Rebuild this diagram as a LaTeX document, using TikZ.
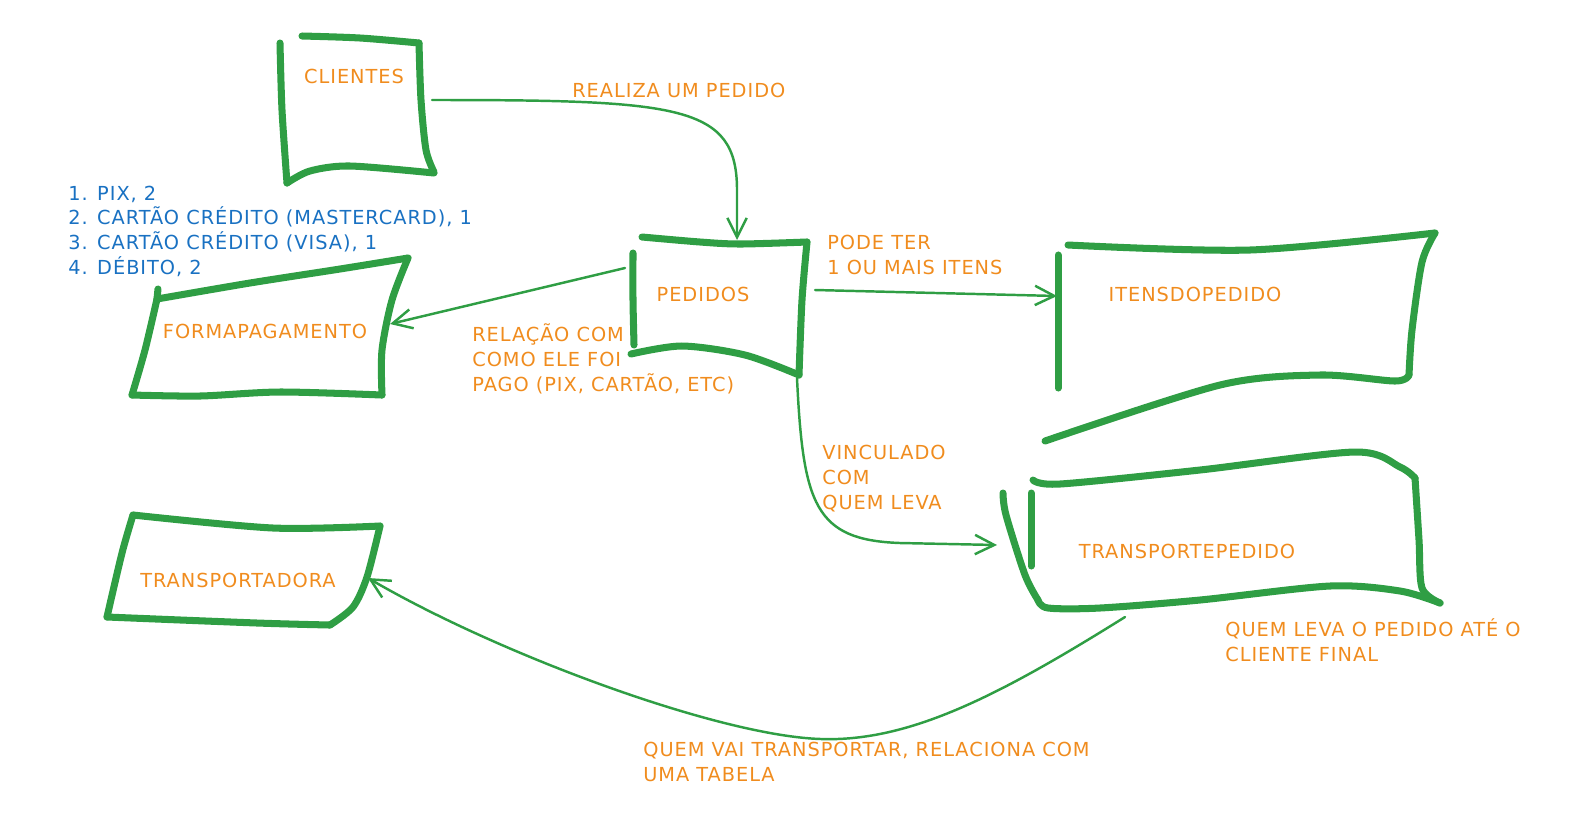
\documentclass[tikz,border=0pt]{standalone}
\usepackage{fontspec}
\setmainfont[LetterSpace=5]{DejaVu Sans}
\usetikzlibrary{arrows.meta}
\definecolor{skgreen}{RGB}{47,158,68}
\definecolor{skorange}{RGB}{240,140,30}
\definecolor{skblue}{RGB}{25,113,194}
\tikzset{sketchbox/.style={draw=skgreen, line width=4pt, line cap=round, line join=round}}
\tikzset{sketchlink/.style={draw=skgreen, line width=1.4pt, line cap=round, -{Straight Barb[length=11pt,width=11pt]}}}
\tikzset{entity/.style={text=skorange, inner sep=0pt}}
\tikzset{note/.style={text=skorange, align=left, inner sep=0pt, anchor=base west}}
\tikzset{notelist/.style={text=skblue, align=left, inner sep=0pt, anchor=base west}}

\begin{document}
\begin{tikzpicture}[x=0.02cm, y=-0.02cm, font=\fontsize{11}{14}\selectfont]
\useasboundingbox (0,0) rectangle (1584,816);

% clientes
\draw[sketchbox] plot[smooth] coordinates {(280,43) (282,110) (287,183)};
\draw[sketchbox] plot[smooth] coordinates {(302,36) (360,38) (419,43)};
\draw[sketchbox] plot[smooth] coordinates {(419,43) (421,100) (426,150) (434,172)};
\draw[sketchbox] plot[smooth] coordinates {(287,183) (310,171) (350,166) (434,173)};
\node[entity] (clientes) at (354,76) {CLIENTES};

% pedidos
\draw[sketchbox] plot[smooth] coordinates {(642,237) (700,242) (740,244) (807,242)};
\draw[sketchbox] plot[smooth] coordinates {(807,242) (802,300) (799,375)};
\draw[sketchbox] plot[smooth] coordinates {(633,253) (633,300) (634,345)};
\draw[sketchbox] plot[smooth] coordinates {(631,354) (682,346) (745,355) (799,375)};
\node[entity] (pedidos) at (703,294) {PEDIDOS};

% formapagamento
\draw[sketchbox] (158,289) -- (157,299);
\draw[sketchbox] plot[smooth] coordinates {(157,299) (250,283) (340,269) (408,258)};
\draw[sketchbox] plot[smooth] coordinates {(408,258) (392,300) (382,350) (382,395)};
\draw[sketchbox] plot[smooth] coordinates {(157,299) (145,350) (132,395)};
\draw[sketchbox] plot[smooth] coordinates {(132,395) (200,396) (280,392) (382,395)};
\node[entity] (formapag) at (265,331) {FORMAPAGAMENTO};

% itensdopedido
\draw[sketchbox] (1058,255) -- (1058,388);
\draw[sketchbox] plot[smooth] coordinates {(1068,245) (1250,250) (1435,233)};
\draw[sketchbox] plot[smooth] coordinates {(1435,233) (1422,262) (1412,330) (1409,375)};
\draw[sketchbox] plot[smooth] coordinates {(1409,375) (1395,381) (1320,375) (1220,385) (1045,441)};
\node[entity] (itens) at (1195,294) {ITENSDOPEDIDO};

% transportepedido
\draw[sketchbox] plot[smooth] coordinates {(1033,480) (1060,484) (1200,470) (1355,452) (1400,467) (1415,478)};
\draw[sketchbox] plot[smooth] coordinates {(1415,478) (1419,540) (1422,588) (1440,603)};
\draw[sketchbox] plot[smooth] coordinates {(1440,603) (1400,591) (1330,586) (1200,600) (1100,608) (1048,608) (1038,600)};
\draw[sketchbox] plot[smooth] coordinates {(1003,493) (1006,515) (1025,575) (1038,600)};
\draw[sketchbox] (1031,493) -- (1031,566);
\node[entity] (transpped) at (1187,551) {TRANSPORTEPEDIDO};

% transportadora
\draw[sketchbox] plot[smooth] coordinates {(133,515) (273,528) (380,526)};
\draw[sketchbox] plot[smooth] coordinates {(380,526) (367,577) (353,607) (330,625)};
\draw[sketchbox] plot[smooth] coordinates {(330,625) (257,623) (107,617)};
\draw[sketchbox] plot[smooth] coordinates {(107,617) (122,553) (133,515)};
\node[entity] (transportadora) at (238,580) {TRANSPORTADORA};

% connector ends
\coordinate (cliOut) at (432,100);
\coordinate (pedIn) at (737,240);
\coordinate (pedLeft) at (625,268);
\coordinate (fpIn) at (390,324);
\coordinate (pedRight) at (815,290);
\coordinate (itIn) at (1057,296);
\coordinate (pedDown) at (797,378);
\coordinate (tpIn) at (997,545);
\coordinate (tpOut) at (1125,617);
\coordinate (tdIn) at (368,578);

\draw[sketchlink] (cliOut) .. controls (680,100) and (737,105) .. (737,190) -- (pedIn);
\draw[sketchlink] (pedLeft) -- (fpIn);
\draw[sketchlink] (pedRight) -- (itIn);
\draw[sketchlink] (pedDown) .. controls (803,505) and (815,540) .. (900,543) -- (tpIn);
\draw[sketchlink] (tpOut) .. controls (1000,695) and (910,742) .. (821,739)
  .. controls (720,736) and (500,655) .. (tdIn);

% labels (base = last line)
\node[note] (lblRealiza) at (572,97) {REALIZA UM PEDIDO};
\node[note] (lblPode) at (827,274) {PODE TER\\1 OU MAIS ITENS};
\node[note] (lblRelacao) at (472,391) {RELAÇÃO COM\\COMO ELE FOI\\PAGO (PIX, CARTÃO, ETC)};
\node[note] (lblVinculado) at (822,509) {VINCULADO\\COM\\QUEM LEVA};
\node[note] (lblLeva) at (1225,661) {QUEM LEVA O PEDIDO ATÉ O\\CLIENTE FINAL};
\node[note] (lblVai) at (643,781) {QUEM VAI TRANSPORTAR, RELACIONA COM\\UMA TABELA};
\node[notelist] (lstFormas) at (68,274) {1. PIX, 2\\2. CARTÃO CRÉDITO (MASTERCARD), 1\\3. CARTÃO CRÉDITO (VISA), 1\\4. DÉBITO, 2};

\end{tikzpicture}
\end{document}
